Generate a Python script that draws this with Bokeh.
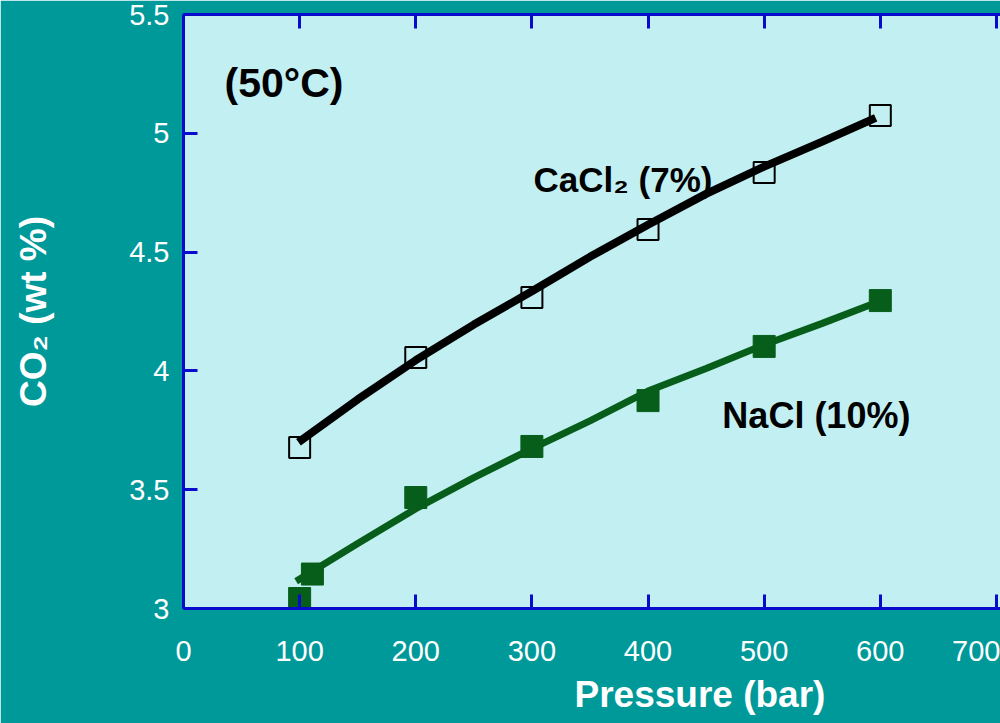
from bokeh.plotting import figure
from bokeh.models import LinearAxis, FixedTicker, Label, Range1d, Title
from bokeh.embed import file_html
from bokeh.resources import INLINE

# Measured CO2 solubility at 50 °C
pressure_cacl2 = [100, 200, 300, 400, 500, 600]
co2_cacl2 = [3.678, 4.056, 4.309, 4.595, 4.835, 5.075]

pressure_nacl = [100, 111, 200, 300, 400, 500, 600]
co2_nacl = [3.042, 3.145, 3.467, 3.682, 3.875, 4.103, 4.296]

# Model curves
curve_p_cacl2 = [99, 150, 200, 250, 300, 350, 400, 450, 500, 550, 596]
curve_co2_cacl2 = [3.70, 3.88, 4.045, 4.195, 4.335, 4.48, 4.615, 4.745, 4.86, 4.965, 5.065]

curve_p_nacl = [97, 150, 200, 250, 300, 350, 400, 450, 500, 550, 595]
curve_co2_nacl = [3.115, 3.274, 3.42, 3.551, 3.673, 3.79, 3.915, 4.01, 4.11, 4.20, 4.285]

x_ticks = [0, 100, 200, 300, 400, 500, 600, 700]
y_ticks = [3, 3.5, 4, 4.5, 5, 5.5]
y_tick_labels = ["3", "3.5", "4", "4.5", "5", "5.5"]

TEAL = "#009999"
PANEL = "#C2F0F2"
BLUE = "#0A0ACC"
GREEN = "#075E1B"
FONT = "Liberation Sans"

p = figure(width=1000, height=723, output_backend="svg", toolbar_location=None,
           x_range=Range1d(0, 703.5), y_range=Range1d(3, 5.5),
           min_border_left=183, min_border_right=0,
           min_border_top=14, min_border_bottom=115)
p.background_fill_color = PANEL
p.border_fill_color = TEAL
p.outline_line_color = None
p.grid.visible = False

for ax in (p.xaxis[0], p.yaxis[0]):
    ax.axis_line_color = BLUE
    ax.axis_line_width = 3
    ax.major_tick_line_color = BLUE
    ax.major_tick_line_width = 3
    ax.major_tick_in = 14
    ax.major_tick_out = 0
    ax.minor_tick_line_color = None
    ax.major_label_text_color = "white"
    ax.major_label_text_font = FONT
    ax.major_label_text_font_size = "29px"

p.xaxis[0].ticker = FixedTicker(ticks=x_ticks)
p.xaxis[0].major_label_standoff = 32
p.yaxis[0].ticker = FixedTicker(ticks=y_ticks)
p.yaxis[0].major_label_overrides = {t: s for t, s in zip(y_ticks, y_tick_labels)}
p.yaxis[0].major_label_standoff = 14

# Vertical axis title
p.yaxis[0].axis_label = "CO₂ (wt %)"
p.yaxis[0].axis_label_text_font = FONT
p.yaxis[0].axis_label_text_font_size = "37px"
p.yaxis[0].axis_label_text_font_style = "bold"
p.yaxis[0].axis_label_text_color = "white"
p.yaxis[0].axis_label_standoff = 72

# Top border carries tick marks only
top = LinearAxis(ticker=FixedTicker(ticks=x_ticks))
top.axis_line_color = BLUE
top.axis_line_width = 3
top.major_tick_line_color = BLUE
top.major_tick_line_width = 3
top.major_tick_in = 14
top.major_tick_out = 0
top.minor_tick_line_color = None
top.major_label_text_color = None
top.major_label_text_font_size = "0px"
top.major_label_standoff = 0
p.add_layout(top, "above")

# Horizontal axis title
p.add_layout(Title(text="Pressure (bar)", align="left", offset=391, standoff=17,
                   text_font=FONT, text_font_size="37px", text_font_style="bold",
                   text_color="white"), "below")

# CaCl2 series: open squares under the fitted curve
p.scatter(pressure_cacl2, co2_cacl2, marker="square", size=21,
          fill_color=None, line_color="black", line_width=2)
p.line(curve_p_cacl2, curve_co2_cacl2, line_color="black", line_width=8)

# NaCl series: filled squares over the fitted curve
p.line(curve_p_nacl, curve_co2_nacl, line_color=GREEN, line_width=7)
p.scatter(pressure_nacl, co2_nacl, marker="square", size=22,
          fill_color=GREEN, line_color=GREEN)

p.add_layout(Label(x=35.3, y=5.213, text="(50°C)", text_font=FONT,
                   text_font_size="41px", text_font_style="bold",
                   text_color="black", text_baseline="alphabetic"))
p.add_layout(Label(x=301.4, y=4.806, text="CaCl₂ (7%)", text_font=FONT,
                   text_font_size="35px", text_font_style="bold",
                   text_color="black", text_baseline="alphabetic"))
p.add_layout(Label(x=464, y=3.811, text="NaCl (10%)", text_font=FONT,
                   text_font_size="36px", text_font_style="bold",
                   text_color="black", text_baseline="alphabetic"))

open("out.html", "w").write(file_html(p, INLINE))
